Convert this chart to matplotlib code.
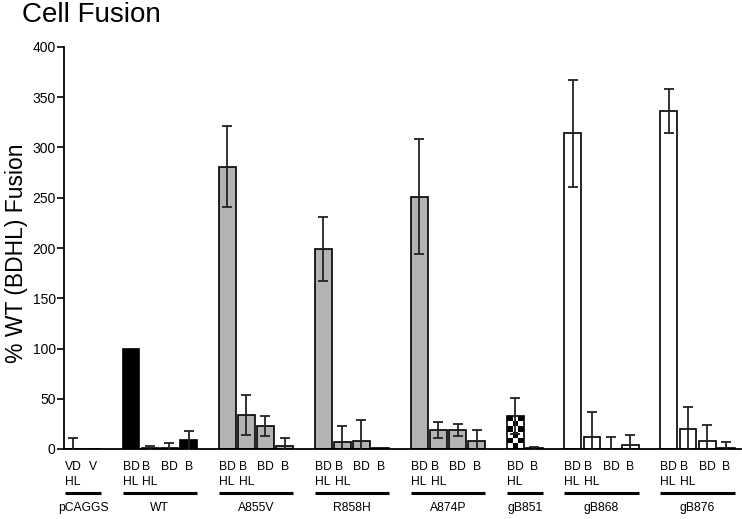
import numpy as np
import matplotlib
matplotlib.use("Agg")
import matplotlib.pyplot as plt
import matplotlib.transforms as mtransforms

plt.rcParams['font.family'] = ['Liberation Sans', 'DejaVu Sans']

groups = ["pCAGGS", "WT", "A855V", "R858H", "A874P", "gB851", "gB868", "gB876"]
bar_labels = [
    ["VD\nHL", "V"],
    ["BD\nHL", "B\nHL", "BD", "B"],
    ["BD\nHL", "B\nHL", "BD", "B"],
    ["BD\nHL", "B\nHL", "BD", "B"],
    ["BD\nHL", "B\nHL", "BD", "B"],
    ["BD\nHL", "B"],
    ["BD\nHL", "B\nHL", "BD", "B"],
    ["BD\nHL", "B\nHL", "BD", "B"],
]
values = [
    [0, 0],
    [100, 0.8, 0.8, 8.5],
    [281, 34, 23, 3],
    [199, 7, 7.5, 0.5],
    [251, 19, 19, 7.5],
    [33, 0.5],
    [314, 12, 0, 3.5],
    [336, 20, 8, 1],
]
errors = [
    [11, 0],
    [0, 2, 5, 9.5],
    [40, 20, 10, 8],
    [32, 16, 21, 0],
    [57, 8, 6, 11],
    [18, 1.5],
    [53, 25, 12, 10.5],
    [22, 22, 16, 5.5],
]
group_colors = ["white", "black", "#b3b3b3", "#b3b3b3", "#b3b3b3", "checker", "white", "white"]

W, H = 742, 519
fig = plt.figure(figsize=(W / 100, H / 100), dpi=100)
ax = fig.add_axes([64 / W, 1 - 449 / H, (741 - 64) / W, (449 - 47) / H])

trans = mtransforms.blended_transform_factory(ax.transData, fig.transFigure)

slot = 0
bw = 0.88
for g, labs, vals, errs, col in zip(groups, bar_labels, values, errors, group_colors):
    xs = np.arange(slot, slot + len(vals))
    fc = "white" if col == "checker" else col
    bars = ax.bar(xs, vals, width=bw, color=fc, edgecolor="black", linewidth=1.2, zorder=2)
    if col == "checker":
        for b in bars:
            x0, y0 = b.get_x(), b.get_y()
            w, h = b.get_width(), b.get_height()
            if h <= 1:
                b.set_facecolor("white")
                continue
            nc, nr = 3, 6
            pat = ((np.add.outer(np.arange(nr), np.arange(nc)) + 1) % 2).astype(float)
            im = ax.imshow(pat, cmap="gray_r", extent=[x0, x0 + w, y0, y0 + h],
                           interpolation="nearest", aspect="auto", zorder=2.5)
            im.set_clip_path(b)
            b.set_zorder(3)
            b.set_facecolor("none")
    for x, v, e in zip(xs, vals, errs):
        if e > 0:
            ax.errorbar(x, v, yerr=e, fmt="none", ecolor="#222222", elinewidth=1.3,
                        capsize=3.3, capthick=1.3, zorder=4)
    for x, lab in zip(xs, labs):
        ax.text(x, 1 - 461 / H, lab, transform=trans, ha="center", va="top",
                multialignment="left", fontsize=8.7, linespacing=1.3)
    left = xs[0] - bw / 2
    right = xs[-1] + bw / 2
    ax.plot([left, right], [1 - 493 / H] * 2, transform=trans, color="black",
            linewidth=2.2, clip_on=False, solid_capstyle="butt")
    ax.text((left + right) / 2, 1 - 508 / H, g, transform=trans, ha="center",
            va="center", fontsize=8.7)
    slot += len(vals) + 1

ax.set_xlim(-0.49, 34.76)
ax.set_ylim(0, 400)
ax.set_yticks(np.arange(0, 401, 50))
ax.tick_params(axis="y", length=5, width=1.2, labelsize=10, pad=1)
ax.tick_params(axis="x", length=0, labelbottom=False)
ax.set_xticks([])
for s in ["top", "right"]:
    ax.spines[s].set_visible(False)
for s in ["left", "bottom"]:
    ax.spines[s].set_linewidth(1.3)

fig.text(22 / W, 1 - 22 / H, "Cell Fusion", fontsize=20, ha="left", va="baseline")
fig.text(17 / W, 1 - 253 / H, "% WT (BDHL) Fusion", fontsize=16.5, rotation=90,
         ha="center", va="center")

fig.savefig("out.png", dpi=100)
